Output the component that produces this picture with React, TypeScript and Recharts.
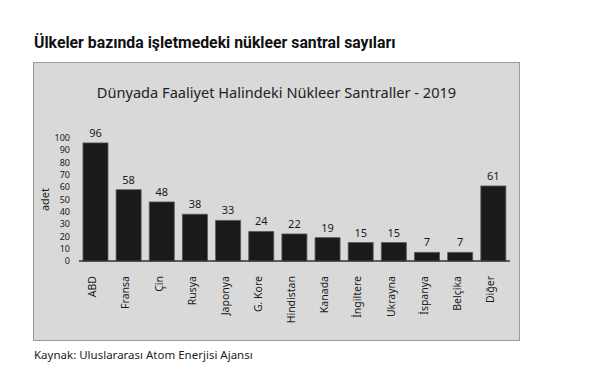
import { BarChart, Bar, XAxis, YAxis, LabelList } from 'recharts';

const countries = ['ABD', 'Fransa', 'Çin', 'Rusya', 'Japonya', 'G. Kore', 'Hindistan', 'Kanada', 'İngiltere', 'Ukrayna', 'İspanya', 'Belçika', 'Diğer'];
const plants = [96, 58, 48, 38, 33, 24, 22, 19, 15, 15, 7, 7, 61];
const yTicks = [0, 10, 20, 30, 40, 50, 60, 70, 80, 90, 100];

const data = countries.map((name, i) => ({ name, adet: plants[i] }));

const CountryTick = (props: any) => {
  const { x, y, payload } = props;
  return (
    <text
      x={x - 3}
      y={y + 7}
      transform={`rotate(-90, ${x - 3}, ${y + 7})`}
      textAnchor="end"
      dy="0.35em"
      fill="#1a1a1a"
      fontSize={10.5}
      fontFamily="'Noto Sans', sans-serif"
    >
      {payload.value}
    </text>
  );
};

export default function App() {
  return (
    <div style={{ position: 'fixed', left: 0, top: 0, width: 600, height: 388, background: '#fff', fontFamily: "'Noto Sans', sans-serif" }}>
      <div style={{ position: 'absolute', left: 34, top: 33, fontFamily: 'Roboto, sans-serif', fontWeight: 700, fontSize: 15.8, color: '#111', whiteSpace: 'nowrap' }}>
        Ülkeler bazında işletmedeki nükleer santral sayıları
      </div>
      <div style={{ position: 'absolute', left: 33, top: 62, width: 485, height: 277, background: '#d9d9d9', border: '1px solid #9a9a9a' }}>
        <div style={{ position: 'absolute', left: 0, width: 485, top: 19, textAlign: 'center', fontSize: 14.6, color: '#222', whiteSpace: 'nowrap' }}>
          Dünyada Faaliyet Halindeki Nükleer Santraller - 2019
        </div>
        <BarChart
          width={485}
          height={277}
          data={data}
          margin={{ top: 75, right: 9, left: 0, bottom: 0 }}
          barCategoryGap="12%"
        >
          <XAxis
            dataKey="name"
            interval={0}
            height={79}
            tickLine={false}
            axisLine={{ stroke: '#333', strokeWidth: 1.5 }}
            tick={<CountryTick />}
          />
          <YAxis
            width={45}
            domain={[0, 100]}
            ticks={yTicks}
            interval={0}
            axisLine={false}
            tickLine={false}
            tickSize={0}
            tickMargin={9}
            tick={{ fill: '#1a1a1a', fontSize: 9 }}
            label={{ value: 'adet', angle: -90, position: 'center', dx: -11.5, fill: '#1a1a1a', fontSize: 11 }}
          />
          <Bar dataKey="adet" fill="#1a1a1a" stroke="#555" strokeWidth={0.8} isAnimationActive={false}>
            <LabelList dataKey="adet" position="top" offset={6} fill="#1a1a1a" fontSize={11} />
          </Bar>
        </BarChart>
      </div>
      <div style={{ position: 'absolute', left: 34, top: 347, fontSize: 11.5, color: '#222', whiteSpace: 'nowrap' }}>
        Kaynak: Uluslararası Atom Enerjisi Ajansı
      </div>
    </div>
  );
}
